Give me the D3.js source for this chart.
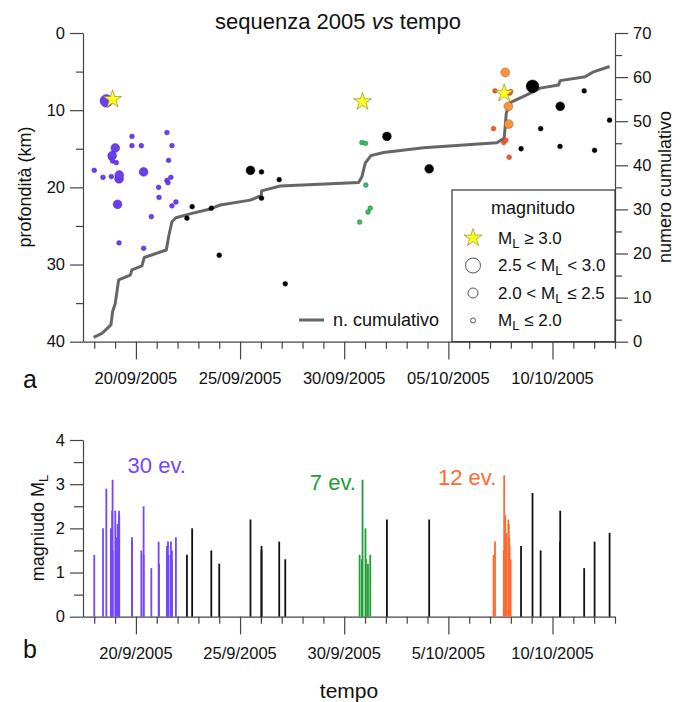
<!DOCTYPE html>
<html>
<head>
<meta charset="utf-8">
<script src="https://cdn.jsdelivr.net/npm/d3@7"></script>
<style>
  body { margin: 0; background: #fff; }
  svg { display: block; font-family: "Liberation Sans", Arial, sans-serif; }
</style>
</head>
<body>
<svg id="chart" width="687" height="702"></svg>
<script>
// events: time in days after 18/09/2005 00:00, depth (km), magnitude ML, sequence group
const evDay = [
  0.00, 0.42, 0.58, 0.80, 0.82, 0.86, 0.88, 0.88, 1.01, 1.06, 1.12, 1.19, 1.19, 1.20, 1.81,
  1.81, 2.26, 2.37, 2.37, 2.74, 3.09, 3.11, 3.49, 3.49, 3.54, 3.57, 3.68, 3.73, 3.73, 3.92,
  4.45, 4.70, 5.62, 6.00, 7.50, 8.03, 8.03, 8.88, 9.17,
  12.74, 12.85, 12.88, 13.02, 13.04, 13.14, 13.25,
  14.05, 16.08,
  19.17, 19.24, 19.66, 19.68, 19.73, 19.76, 19.79, 19.88, 19.90, 19.92, 19.94, 19.99,
  20.49, 21.04, 21.43, 22.36, 22.37, 23.52, 24.02, 24.74
];
const evDepth = [
  17.8, 18.7, 8.8, 16.2, 18.6, 15.9, 8.6, 16.6, 14.9, 16.8, 22.2, 18.9, 27.2, 18.4, 13.4,
  14.6, 14.6, 18.0, 27.9, 23.8, 20.0, 21.3, 12.9, 19.1, 19.4, 16.5, 18.7, 14.6, 22.4, 21.9,
  24.0, 22.5, 22.7, 28.8, 17.8, 18.0, 21.4, 19.0, 32.5,
  24.5, 14.2, 8.9, 14.3, 19.7, 23.2, 22.7,
  13.4, 17.6,
  12.4, 7.5, 14.2, 7.8, 5.1, 13.9, 7.7, 9.5, 11.8, 16.1, 7.8, 7.6,
  15.0, 6.9, 12.4, 14.7, 9.5, 7.5, 15.2, 11.3
];
const evMag = [
  1.4, 2.0, 2.9, 2.0, 2.0, 2.4, 3.1, 1.5, 2.4, 1.8, 2.1, 2.4, 1.6, 2.3, 1.8,
  1.7, 1.5, 2.5, 1.4, 1.1, 1.7, 1.2, 1.6, 1.5, 1.7, 1.4, 1.7, 1.5, 1.3, 1.8,
  1.4, 2.0, 1.5, 1.2, 2.2, 1.6, 1.5, 1.7, 1.3,
  1.4, 1.3, 3.1, 2.0, 1.3, 1.2, 1.4,
  2.2, 2.2,
  1.4, 1.7, 1.5, 3.2, 2.3, 1.8, 1.9, 2.2, 2.1, 1.8, 1.6, 1.3,
  1.6, 2.8, 1.5, 1.7, 2.4, 1.1, 1.7, 1.9
];
const evGroup = [
  "p","p","p","p","p","p","p","p","p","p","p","p","p","p","p",
  "p","p","p","p","p","p","p","p","p","p","p","p","p","p","p",
  "k","k","k","k","k","k","k","k","k",
  "g","g","g","g","g","g","g",
  "k","k",
  "o","o","o","o","o","o","o","o","o","o","o","o",
  "k","k","k","k","k","k","k","k"
];

// cumulative number of events
const cumDay = [
  -0.03, 0.37, 0.80, 0.88, 1.01, 1.17, 1.73, 1.81, 2.29, 2.40, 3.46, 3.57, 3.73, 3.92,
  4.69, 5.57, 6.05, 7.49, 8.02, 8.03, 8.93, 12.69, 12.85, 13.01, 13.28, 13.89, 15.81,
  19.33, 19.68, 19.78, 19.97, 21.09, 21.41, 22.29, 22.37, 23.57, 23.97, 24.74
];
const cumCount = [
  1.0, 1.9, 3.8, 6.8, 8.7, 14.0, 15.1, 16.3, 17.2, 19.1, 20.8, 23.8, 27.2, 28.1,
  29.1, 30.1, 31.0, 32.1, 33.1, 34.2, 35.3, 36.1, 37.4, 40.5, 42.2, 42.9, 44.0,
  45.1, 46.1, 51.8, 54.2, 56.7, 57.5, 58.2, 59.2, 60.1, 61.2, 62.4
];

// labelled dates (day of month, month index)
const majorDates = [[20, 8], [25, 8], [30, 8], [5, 9], [10, 9]];
const topTickLabels = ["20/09/2005", "25/09/2005", "30/09/2005", "05/10/2005", "10/10/2005"];
const bottomTickLabels = ["20/9/2005", "25/9/2005", "30/9/2005", "5/10/2005", "10/10/2005"];

const seqNames = ["30 ev.", "7 ev.", "12 ev."];
const seqGroups = ["p", "g", "o"];

const legendLabels = [
  ["", "M", "L", " \u2265 3.0"],
  ["2.5 < ", "M", "L", " < 3.0"],
  ["2.0 < ", "M", "L", " \u2264 2.5"],
  ["", "M", "L", " \u2264 2.0"]
];

const svg = d3.select("#chart");
const axisCol = "#444";
const dayMs = 864e5;
const base = Date.UTC(2005, 8, 18);
const toDate = d => new Date(base + d * dayMs);

const events = evDay.map((d, i) => ({
  date: toDate(d), depth: evDepth[i], mag: evMag[i], group: evGroup[i]
}));
const cum = cumDay.map((d, i) => ({ date: toDate(d), count: cumCount[i] }));

const x = d3.scaleUtc()
  .domain([toDate(-0.54), new Date(Date.UTC(2005, 9, 13))])
  .range([83, 615]);
const yDepth = d3.scaleLinear().domain([0, 40]).range([33, 341.7]);
const yCount = d3.scaleLinear().domain([0, 70]).range([341.7, 33]);
const yMag = d3.scaleLinear().domain([0, 4]).range([616.7, 440]);

const allDays = d3.utcDay.range(new Date(Date.UTC(2005, 8, 18)), new Date(Date.UTC(2005, 9, 14)));
const majorKeys = majorDates.map(([d, m]) => +new Date(Date.UTC(2005, m, d)));
const isMajor = t => majorKeys.includes(+t);

const fill = {
  p: "#6a3ff0", g: "#38bd5e", k: "#000000"
};
const stroke = { p: "#4a26bf", g: "#1f7d3a", k: "#000000", o: "#b8501e" };
const barCol = { p: "#7446ff", g: "#1f9e35", o: "#ff6a33", k: "#111111" };
const dotFill = d => d.group === "o" ? (d.mag > 2 ? "#f7953d" : "#f15c2c") : fill[d.group];
const dotR = m => m > 2.5 ? 6.3 : m > 2.0 ? 4.4 : 2.4;

function styleAxis(g) {
  g.selectAll("path, line").attr("stroke", axisCol).attr("stroke-width", 1.2);
  g.selectAll("text").attr("fill", "#111").attr("font-size", "16.5px")
    .attr("font-family", "Liberation Sans, Arial, sans-serif");
}

// ---------- panel a ----------
svg.append("text")
  .attr("x", 338).attr("y", 29)
  .attr("text-anchor", "middle")
  .attr("font-size", "22px")
  .attr("fill", "#111")
  .call(t => {
    t.append("tspan").text("sequenza 2005 ");
    t.append("tspan").attr("font-style", "italic").text("vs");
    t.append("tspan").text(" tempo");
  });

const xTop = svg.append("g")
  .attr("transform", "translate(0,341.7)")
  .call(d3.axisBottom(x).tickValues(allDays).tickSize(7).tickSizeOuter(0).tickFormat(""));
xTop.selectAll(".tick line").filter(d => isMajor(d)).attr("y2", 17.7);
styleAxis(xTop);

svg.append("g").selectAll("text")
  .data(majorKeys)
  .join("text")
  .attr("x", d => x(new Date(d)))
  .attr("y", 384)
  .attr("text-anchor", "middle")
  .attr("font-size", "16.5px")
  .attr("fill", "#111")
  .text((d, i) => topTickLabels[i]);

const yLeft = svg.append("g")
  .attr("transform", "translate(83,0)")
  .call(d3.axisLeft(yDepth).tickValues(d3.range(0, 41, 5)).tickSize(13).tickPadding(5)
    .tickSizeOuter(0).tickFormat(d => d % 10 === 0 ? d : ""));
yLeft.selectAll(".tick line").filter(d => d % 10 !== 0).attr("x2", -7);
styleAxis(yLeft);

const yRight = svg.append("g")
  .attr("transform", "translate(615,0)")
  .call(d3.axisRight(yCount).tickValues(d3.range(0, 71, 5)).tickSize(13).tickPadding(5)
    .tickSizeOuter(0).tickFormat(d => d % 10 === 0 ? d : ""));
yRight.selectAll(".tick line").filter(d => d % 10 !== 0).attr("x2", 7);
styleAxis(yRight);

svg.append("text")
  .attr("transform", "translate(31,187) rotate(-90)")
  .attr("text-anchor", "middle")
  .attr("font-size", "18px")
  .attr("fill", "#111")
  .text("profondità (km)");

svg.append("text")
  .attr("transform", "translate(671,187) rotate(-90)")
  .attr("text-anchor", "middle")
  .attr("font-size", "18px")
  .attr("fill", "#111")
  .text("numero cumulativo");

svg.append("text")
  .attr("x", 30).attr("y", 388)
  .attr("text-anchor", "middle")
  .attr("font-size", "25px")
  .attr("fill", "#111")
  .text("a");

// cumulative line
const line = d3.line().x(d => x(d.date)).y(d => yCount(d.count));
svg.append("path")
  .datum(cum)
  .attr("d", line)
  .attr("fill", "none")
  .attr("stroke", "#666")
  .attr("stroke-width", 3)
  .attr("stroke-linejoin", "round");

// circles
svg.append("g").selectAll("circle")
  .data(events.filter(d => d.mag < 3))
  .join("circle")
  .attr("cx", d => x(d.date))
  .attr("cy", d => yDepth(d.depth))
  .attr("r", d => dotR(d.mag))
  .attr("fill", dotFill)
  .attr("stroke", d => stroke[d.group])
  .attr("stroke-width", 0.5);

// stars for ML >= 3
const star = d3.symbol(d3.symbolStar, 100);
svg.append("g").selectAll("path")
  .data(events.filter(d => d.mag >= 3))
  .join("path")
  .attr("transform", d => `translate(${x(d.date)},${yDepth(d.depth)})`)
  .attr("d", star)
  .attr("fill", "#ffff1a")
  .attr("stroke", "#8c8c40")
  .attr("stroke-width", 0.7);

// legend "n. cumulativo"
svg.append("line")
  .attr("x1", 299).attr("x2", 324).attr("y1", 320).attr("y2", 320)
  .attr("stroke", "#666").attr("stroke-width", 3);
svg.append("text")
  .attr("x", 333).attr("y", 326)
  .attr("font-size", "18px").attr("fill", "#111")
  .text("n. cumulativo");

// magnitude legend
const lg = svg.append("g");
lg.append("rect")
  .attr("x", 452).attr("y", 190).attr("width", 163).attr("height", 151.7)
  .attr("fill", "#fff").attr("stroke", "#333").attr("stroke-width", 1.2);
lg.append("text")
  .attr("x", 533).attr("y", 214)
  .attr("text-anchor", "middle").attr("font-size", "18px").attr("fill", "#111")
  .text("magnitudo");

const legRowY = [238, 265.5, 293, 320.5];
const legR = [0, 7.5, 5, 2.5];
legendLabels.forEach((parts, i) => {
  const cy = legRowY[i];
  if (i === 0) {
    lg.append("path")
      .attr("transform", `translate(473,${cy})`)
      .attr("d", star)
      .attr("fill", "#ffff1a").attr("stroke", "#8c8c40").attr("stroke-width", 0.7);
  } else {
    lg.append("circle")
      .attr("cx", 473).attr("cy", cy).attr("r", legR[i])
      .attr("fill", "#fff").attr("stroke", "#555").attr("stroke-width", 1);
  }
  const t = lg.append("text")
    .attr("x", 498).attr("y", cy + 5.5)
    .attr("font-size", "17px").attr("fill", "#111");
  t.append("tspan").text(parts[0] + parts[1]);
  t.append("tspan").attr("font-size", "13px").attr("dy", 4).text(parts[2]);
  t.append("tspan").attr("dy", -4).text(parts[3]);
});

// ---------- panel b ----------
const xBot = svg.append("g")
  .attr("transform", "translate(0,616.7)")
  .call(d3.axisBottom(x).tickValues(allDays).tickSize(7).tickSizeOuter(0).tickFormat(""));
xBot.selectAll(".tick line").filter(d => isMajor(d)).attr("y2", 17.7);
styleAxis(xBot);

svg.append("g").selectAll("text")
  .data(majorKeys)
  .join("text")
  .attr("x", d => x(new Date(d)))
  .attr("y", 659)
  .attr("text-anchor", "middle")
  .attr("font-size", "16.5px")
  .attr("fill", "#111")
  .text((d, i) => bottomTickLabels[i]);

const yMagAxis = svg.append("g")
  .attr("transform", "translate(83,0)")
  .call(d3.axisLeft(yMag).tickValues(d3.range(0, 4.01, 0.5)).tickSize(13).tickPadding(5)
    .tickSizeOuter(0).tickFormat(d => Number.isInteger(d) ? d : ""));
yMagAxis.selectAll(".tick line").filter(d => !Number.isInteger(d)).attr("x2", -9);
styleAxis(yMagAxis);

svg.append("text")
  .attr("transform", "translate(44,528) rotate(-90)")
  .attr("text-anchor", "middle")
  .attr("font-size", "18px")
  .attr("fill", "#111")
  .call(t => {
    t.append("tspan").text("magniudo M");
    t.append("tspan").attr("font-size", "13px").attr("dy", 4).text("L");
  });

svg.append("text")
  .attr("x", 30).attr("y", 658)
  .attr("text-anchor", "middle")
  .attr("font-size", "25px")
  .attr("fill", "#111")
  .text("b");

svg.append("text")
  .attr("x", 349).attr("y", 698)
  .attr("text-anchor", "middle")
  .attr("font-size", "21px")
  .attr("fill", "#111")
  .text("tempo");

// magnitude bars
svg.append("g").selectAll("line")
  .data(events)
  .join("line")
  .attr("x1", d => x(d.date)).attr("x2", d => x(d.date))
  .attr("y1", yMag(0)).attr("y2", d => yMag(d.mag))
  .attr("stroke", d => barCol[d.group])
  .attr("stroke-width", 1.8);

// sequence labels
const seqPos = [
  { day: 1.6, mag: 3.26, anchor: "start" },
  { day: 12.56, mag: 2.87, anchor: "end" },
  { day: 19.3, mag: 2.98, anchor: "end" }
];
svg.append("g").selectAll("text")
  .data(seqNames)
  .join("text")
  .attr("x", (d, i) => x(toDate(seqPos[i].day)))
  .attr("y", (d, i) => yMag(seqPos[i].mag))
  .attr("text-anchor", (d, i) => seqPos[i].anchor)
  .attr("font-size", "22px")
  .attr("fill", (d, i) => barCol[seqGroups[i]])
  .text(d => d);
</script>
</body>
</html>
